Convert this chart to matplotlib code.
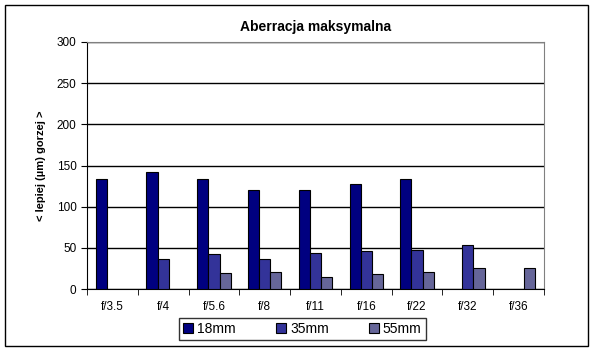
import numpy as np
import matplotlib.pyplot as plt
from matplotlib.patches import Rectangle

plt.rcParams['font.family'] = ['Liberation Sans', 'DejaVu Sans']

apertures = ['f/3.5', 'f/4', 'f/5.6', 'f/8', 'f/11', 'f/16', 'f/22', 'f/32', 'f/36']
series_names = ['18mm', '35mm', '55mm']
vals_18 = [133, 142, 133, 120, 120, 127, 134, np.nan, np.nan]
vals_35 = [np.nan, 37, 43, 36, 44, 46, 47, 53, np.nan]
vals_55 = [np.nan, np.nan, 20, 21, 14, 18, 21, 26, 25]
colors = ['#000080', '#333399', '#666699']

W, H = 598, 352
fig = plt.figure(figsize=(W / 100, H / 100), dpi=100)

# outer chart border
fig.patches.append(Rectangle((5 / W, 1 - 346 / H), 583 / W, 341 / H,
                             transform=fig.transFigure, fill=False,
                             edgecolor='black', linewidth=1.0))

left, right, top, bottom = 87, 544, 42, 289
ax = fig.add_axes([left / W, 1 - bottom / H, (right - left) / W, (bottom - top) / H])

x = np.arange(len(apertures))
bw = 0.22
for i, (vals, name) in enumerate(zip([vals_18, vals_35, vals_55], series_names)):
    ax.bar(x + (i - 1) * bw, vals, width=bw, color=colors[i], edgecolor='black',
           linewidth=0.8, label=name, zorder=3)

ax.set_xlim(-0.5, len(apertures) - 0.5)
ax.set_ylim(0, 300)
ax.set_yticks(range(0, 301, 50))
ax.yaxis.grid(True, color='black', linewidth=1.0, zorder=0)
ax.set_xticks(x)
ax.set_xticklabels(apertures, fontsize=8.5)
ax.tick_params(axis='x', length=0, pad=9)
ax.set_xticks(np.arange(-0.5, len(apertures), 1), minor=True)
ax.tick_params(axis='x', which='minor', length=4, direction='out', color='black')
ax.tick_params(axis='y', labelsize=8.5, length=4, direction='out')

for side in ['top', 'right']:
    ax.spines[side].set_color('#808080')
for side in ['left', 'bottom']:
    ax.spines[side].set_color('black')

ax.set_title('Aberracja maksymalna', fontsize=10, fontweight='bold', pad=8)
ax.set_ylabel('< lepiej (µm) gorzej >', fontsize=8, fontweight='bold', labelpad=8)

leg = fig.legend(loc='center', bbox_to_anchor=((178 + 427) / 2 / W, 1 - 329 / H),
                 ncol=3, fontsize=10, frameon=True, fancybox=False,
                 handlelength=0.7, handleheight=0.7, handletextpad=0.3,
                 columnspacing=2.9, borderpad=0.3)
leg.get_frame().set_edgecolor('black')
leg.get_frame().set_linewidth(1.0)

fig.savefig('out.png', dpi=100)
